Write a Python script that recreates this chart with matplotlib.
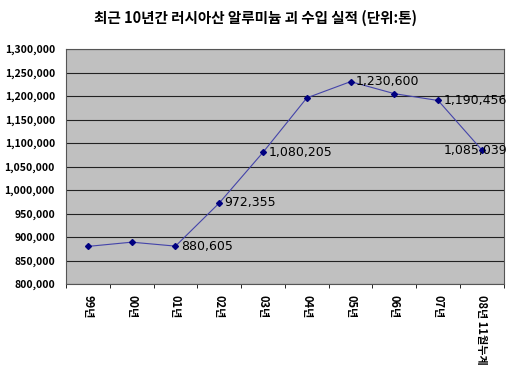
import matplotlib
matplotlib.use("Agg")
import matplotlib.pyplot as plt
from matplotlib.ticker import FuncFormatter, FixedLocator

plt.rcParams['font.family'] = ['Noto Sans CJK KR', 'DejaVu Sans']

categories = ["99년", "00년", "01년", "02년", "03년", "04년", "05년", "06년", "07년", "08년 11월누계"]
values = [880000, 889000, 880605, 972355, 1080205, 1196000, 1230600, 1205000, 1190456, 1085039]
labeled = [2, 3, 4, 6, 8, 9]
title = "최근 10년간 러시아산 알루미늄 괴 수입 실적 (단위:톤)"

fig = plt.figure(figsize=(5.12, 3.73), dpi=100)
ax = fig.add_axes([0.129, 0.2386, 0.855, 0.63])
ax.set_facecolor("#C0C0C0")
x = list(range(len(categories)))
ax.plot(x, values, color="#4444AA", lw=0.8, marker="D", ms=3, mfc="#000080", mec="#000080", zorder=3)
ax.set_xlim(-0.5, len(categories) - 0.5)
ax.set_ylim(800000, 1300000)
ax.set_yticks(range(800000, 1300001, 50000))
ax.yaxis.set_major_formatter(FuncFormatter(lambda v, p: f"{int(v):,}"))
ax.grid(axis="y", color="#222222", lw=0.8)
ax.set_axisbelow(True)
for s in ax.spines.values():
    s.set_color("#555555")
    s.set_linewidth(0.8)
ax.set_xticks(x)
ax.set_xticklabels(categories, rotation=-90, va="top", ha="center", fontsize=8, fontweight="bold")
ax.tick_params(axis="x", which="major", length=0, pad=8)
ax.xaxis.set_minor_locator(FixedLocator([i + 0.5 for i in range(-1, len(categories))]))
ax.tick_params(axis="x", which="minor", length=3, direction="out")
ax.tick_params(axis="y", length=0, pad=8, labelsize=7.5)
for lab in ax.get_yticklabels():
    lab.set_fontweight("bold")
for i in labeled:
    if i == len(categories) - 1:
        ax.text(x[i] - 0.15, values[i], f"{values[i]:,}", ha="center", va="center", fontsize=9, family="DejaVu Sans")
    else:
        ax.text(x[i] + 0.12, values[i], f"{values[i]:,}", ha="left", va="center", fontsize=9, family="DejaVu Sans")
fig.text(0.5, 0.953, title, ha="center", va="center", fontsize=10.5, fontweight="bold")
fig.savefig("out.png", dpi=100)
